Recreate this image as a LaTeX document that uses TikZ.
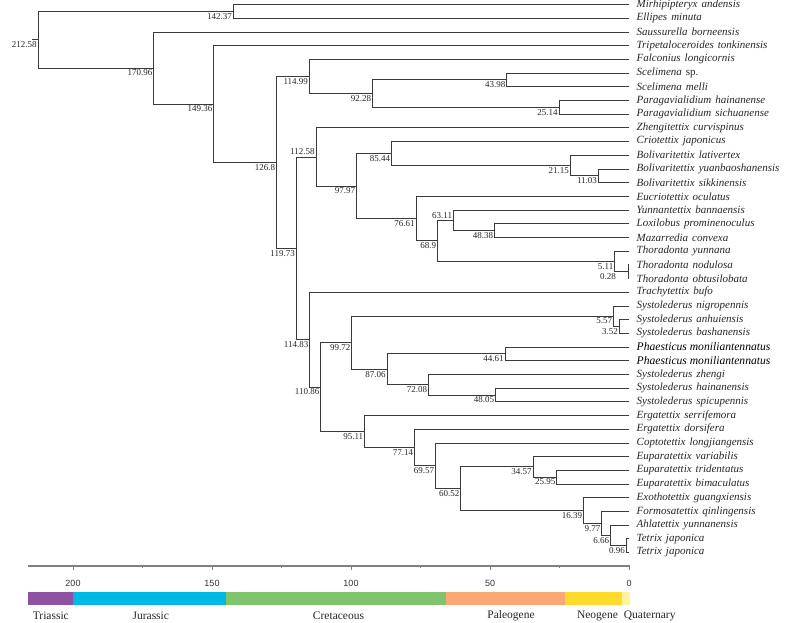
\documentclass[tikz,border=0pt]{standalone}
\usepackage{fontspec}
\setmainfont{Liberation Serif}
\newfontfamily\axfont{Liberation Sans}
\usetikzlibrary{calc}
\definecolor{linec}{HTML}{3A3A3A}
\definecolor{txtc}{HTML}{262626}
\definecolor{triac}{HTML}{8E52A1}
\definecolor{jurac}{HTML}{00B8E6}
\definecolor{cretc}{HTML}{80C56E}
\definecolor{paleoc}{HTML}{FBA874}
\definecolor{neoc}{HTML}{FFDC2B}
\definecolor{quatc}{HTML}{FFF3A0}
\tikzset{
  br/.style={draw=linec, line width=0.8pt},
  tiplab/.style={anchor=west, inner sep=0pt, text=txtc, font={\fontsize{11}{13}\selectfont\itshape\spaceskip=4pt\relax}},
  tipbig/.style={anchor=west, inner sep=0pt, text=black, font={\fontsize{11.6}{13}\selectfont\itshape}},
  nl/.style={anchor=north east, inner sep=0pt, xshift=-1.2pt, yshift=-1.6pt, text=txtc, font={\fontsize{9}{10}\selectfont}},
  nlup/.style={anchor=south east, inner sep=0pt, xshift=-1.2pt, yshift=1.6pt, text=txtc, font={\fontsize{9}{10}\selectfont}},
  axisline/.style={draw=black!50, line width=1.3pt},
  ticklab/.style={inner sep=0pt, text=black!80, font={\axfont\fontsize{9}{10}\selectfont}},
  perlab/.style={inner sep=0pt, text=txtc, font={\fontsize{11.5}{13}\selectfont}},
}
% tip: [style]{index}{text}
\newcommand{\mytip}[3][tiplab]{%
  \coordinate (e#2) at (629,{4.5+13.7*(#2-1)});
  \node[#1] (L#2) at (636.5,{4.5+13.7*(#2-1)}) {#3};}
% internal node: [label style]{name}{age}{child1}{child2}
\newcommand{\mynode}[5][nl]{%
  \path ($(#4)!0.5!(#5)$) coordinate (#2m);
  \path ({629-2.78*#3},0) coordinate (#2x);
  \coordinate (#2) at (#2m -| #2x);
  \draw[br] (#4) -| (#2) |- (#5);
  \node[#1] (l#2) at (#2) {#3};}
\begin{document}
\begin{tikzpicture}[x=1pt,y=-1pt]
\useasboundingbox (0,0) rectangle (790,622);
% tips
\mytip{1}{Mirhipipteryx andensis}
\mytip{2}{Ellipes minuta}
\mytip{3}{Saussurella borneensis}
\mytip{4}{Tripetaloceroides tonkinensis}
\mytip{5}{Falconius longicornis}
\mytip{6}{Scelimena {\upshape sp.}}
\mytip{7}{Scelimena melli}
\mytip{8}{Paragavialidium hainanense}
\mytip{9}{Paragavialidium sichuanense}
\mytip{10}{Zhengitettix curvispinus}
\mytip{11}{Criotettix japonicus}
\mytip{12}{Bolivaritettix lativertex}
\mytip{13}{Bolivaritettix yuanbaoshanensis}
\mytip{14}{Bolivaritettix sikkinensis}
\mytip{15}{Eucriotettix oculatus}
\mytip{16}{Yunnantettix bannaensis}
\mytip{17}{Loxilobus prominenoculus}
\mytip{18}{Mazarredia convexa}
\mytip{19}{Thoradonta yunnana}
\mytip{20}{Thoradonta nodulosa}
\mytip{21}{Thoradonta obtusilobata}
\mytip{22}{Trachytettix bufo}
\mytip{23}{Systolederus nigropennis}
\mytip{24}{Systolederus anhuiensis}
\mytip{25}{Systolederus bashanensis}
\mytip[tipbig]{26}{Phaesticus moniliantennatus}
\mytip[tipbig]{27}{Phaesticus moniliantennatus}
\mytip{28}{Systolederus zhengi}
\mytip{29}{Systolederus hainanensis}
\mytip{30}{Systolederus spicupennis}
\mytip{31}{Ergatettix serrifemora}
\mytip{32}{Ergatettix dorsifera}
\mytip{33}{Coptotettix longjiangensis}
\mytip{34}{Euparatettix variabilis}
\mytip{35}{Euparatettix tridentatus}
\mytip{36}{Euparatettix bimaculatus}
\mytip{37}{Exothotettix guangxiensis}
\mytip{38}{Formosatettix qinlingensis}
\mytip{39}{Ahlatettix yunnanensis}
\mytip{40}{Tetrix japonica}
\mytip{41}{Tetrix japonica}
% internal nodes
\mynode{aA}{43.98}{e6}{e7}
\mynode{aB}{25.14}{e8}{e9}
\mynode{aC}{92.28}{aA}{aB}
\mynode{aD}{114.99}{e5}{aC}
\mynode{aE}{11.03}{e13}{e14}
\mynode{aF}{21.15}{e12}{aE}
\mynode{aG}{85.44}{e11}{aF}
\mynode{aH}{48.38}{e17}{e18}
\mynode[nlup]{aI}{63.11}{e16}{aH}
\mynode[nl,xshift=-11pt]{aJ}{0.28}{e20}{e21}
\mynode{aK}{5.11}{e19}{aJ}
\mynode{aL}{68.9}{aI}{aK}
\mynode{aM}{76.61}{e15}{aL}
\mynode{aN}{97.97}{aG}{aM}
\mynode[nlup]{aO}{112.58}{e10}{aN}
\mynode{aP}{3.52}{e24}{e25}
\mynode{aQ}{5.57}{e23}{aP}
\mynode{aR}{44.61}{e26}{e27}
\mynode{aS}{48.05}{e29}{e30}
\mynode{aT}{72.08}{e28}{aS}
\mynode{aU}{87.06}{aR}{aT}
\mynode{aV}{99.72}{aQ}{aU}
\mynode{aW}{25.95}{e35}{e36}
\mynode{aX}{34.57}{e34}{aW}
\mynode{aY}{0.96}{e40}{e41}
\mynode{aZ}{6.66}{e39}{aY}
\mynode{ba}{9.77}{e38}{aZ}
\mynode{bb}{16.39}{e37}{ba}
\mynode{bc}{60.52}{aX}{bb}
\mynode{bd}{69.57}{e33}{bc}
\mynode{be}{77.14}{e32}{bd}
\mynode{bf}{95.11}{e31}{be}
\mynode{bg}{110.86}{aV}{bf}
\mynode{bh}{114.83}{e22}{bg}
\mynode{bi}{119.73}{aO}{bh}
\mynode{bj}{126.8}{aD}{bi}
\mynode{bk}{149.36}{e4}{bj}
\mynode{bl}{170.96}{e3}{bk}
\mynode{bm}{142.37}{e1}{e2}
\mynode{root}{212.58}{bm}{bl}
\path (31.5,0) coordinate (stemx);
\coordinate (stem) at (root -| stemx);
\draw[br] (stem) -- (root);
% time axis
\coordinate (ax0) at (28,566);
\coordinate (ax1) at (629.5,566);
\draw[axisline] (ax0) -- (ax1);
\foreach \t in {0,50,100,150,200} {
  \draw[draw=black!50, line width=0.9pt] ({629-2.78*\t},566) -- ++(0,4);
  \node[ticklab] (tk\t) at ({629-2.78*\t},583) {\t};
}
\foreach \t in {25,75,125,175} {
  \draw[draw=black!50, line width=0.9pt] ({629-2.78*\t},566) -- ++(0,2);
}
% period bar
\fill[triac] (28,591.7) rectangle (73.4,605);
\fill[jurac] (73.4,591.7) rectangle (226,605);
\fill[cretc] (226,591.7) rectangle (445.5,605);
\fill[paleoc] (445.5,591.7) rectangle (565,605);
\fill[neoc] (565,591.7) rectangle (622.3,605);
\fill[quatc] (622.3,591.7) rectangle (630,605);
\node[perlab] (pTri) at (50.8,616) {Triassic};
\node[perlab] (pJur) at (150.8,616) {Jurassic};
\node[perlab] (pCre) at (338.5,616) {Cretaceous};
\node[perlab] (pPal) at (511,616) {Paleogene};
\node[perlab] (pNeo) at (597.5,616) {Neogene};
\node[perlab] (pQua) at (649.7,616) {Quaternary};
\end{tikzpicture}
\end{document}
